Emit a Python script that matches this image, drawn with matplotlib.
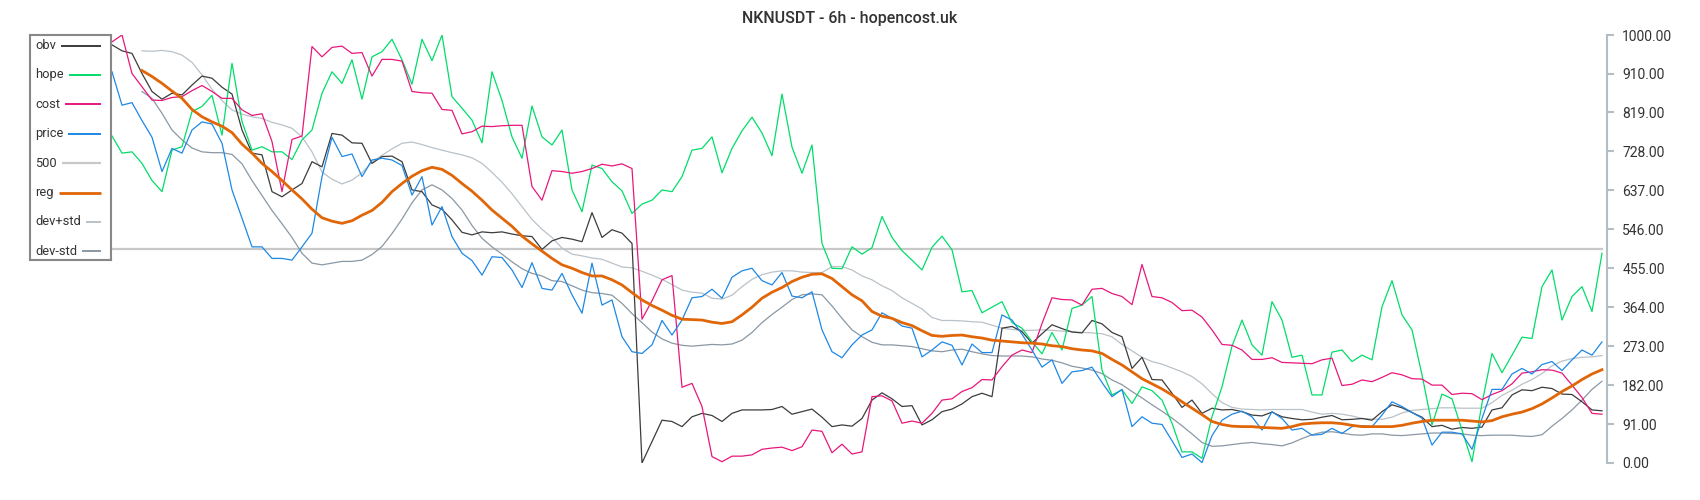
# NKNUSDT 6h chart: obv / hope / cost / price with regression and std bands
import matplotlib
matplotlib.use('Agg')
import matplotlib.pyplot as plt
import numpy as np

title = 'NKNUSDT - 6h - hopencost.uk'

obv = [977, 963, 957, 910, 868, 850, 864, 860, 883, 904, 899, 878, 862, 778, 724, 720, 634, 622, 638, 653, 704, 692, 770, 766, 748, 747,
       700, 716, 717, 704, 638, 634, 603, 593, 568, 539, 533, 540, 538, 540, 535, 531, 529, 499, 519, 527, 523, 517, 585, 527, 545,
       537, 513, 0, 50, 100, 97, 85, 108, 116, 111, 97, 116, 124, 124, 124, 125, 132, 114, 120, 126, 107, 85, 89, 86, 104,
       147, 164, 150, 132, 134, 89, 101, 120, 126, 138, 155, 163, 155, 315, 319, 307, 280, 302, 323, 314, 306, 304, 333, 325, 305,
       295, 221, 247, 195, 194, 163, 130, 147, 116, 128, 124, 125, 120, 112, 110, 119, 108, 104, 101, 102, 107, 111, 101, 102, 104,
       100, 120, 136, 129, 118, 107, 85, 88, 79, 83, 81, 84, 124, 129, 159, 171, 169, 177, 174, 161, 160, 143, 124, 122]

hope = [764, 724, 727, 700, 660, 634, 731, 739, 821, 833, 859, 766, 934, 798, 731, 739, 727, 727, 709, 755, 778, 864, 914, 887, 942, 850,
        949, 961, 990, 942, 885, 990, 940, 1000, 856, 829, 801, 748, 914, 847, 762, 712, 834, 762, 743, 778, 638, 587, 696, 688, 657,
        636, 583, 605, 614, 638, 634, 669, 731, 735, 762, 678, 735, 776, 808, 771, 718, 862, 738, 677, 743, 513, 455, 454, 505, 488,
        503, 576, 527, 496, 474, 451, 504, 530, 498, 400, 403, 351, 364, 377, 328, 315, 283, 255, 305, 264, 361, 369, 389, 217, 159,
        171, 139, 178, 169, 147, 93, 26, 26, 11, 108, 178, 273, 334, 276, 252, 377, 334, 247, 252, 159, 159, 259, 264, 237, 252,
        241, 365, 426, 346, 311, 206, 89, 161, 150, 77, 3, 139, 256, 211, 252, 294, 291, 412, 451, 334, 389, 412, 354, 490]

cost = [984, 1000, 910, 879, 848, 847, 854, 856, 870, 882, 868, 852, 852, 825, 812, 816, 751, 634, 756, 764, 973, 949, 971, 974, 957, 959,
        904, 943, 943, 939, 868, 865, 864, 826, 824, 769, 774, 787, 786, 788, 789, 789, 646, 614, 683, 681, 677, 681, 688, 698, 694,
        699, 688, 336, 379, 428, 438, 177, 186, 132, 15, 3, 16, 16, 19, 32, 35, 37, 29, 38, 77, 74, 24, 44, 21, 26,
        155, 157, 145, 93, 98, 93, 116, 147, 150, 167, 176, 195, 194, 225, 252, 264, 258, 326, 386, 382, 381, 369, 406, 408, 396,
        389, 370, 464, 389, 386, 375, 356, 357, 341, 311, 277, 275, 264, 242, 242, 246, 235, 234, 233, 232, 241, 245, 181, 184, 194,
        190, 200, 211, 206, 197, 196, 182, 182, 160, 163, 162, 148, 160, 169, 185, 210, 213, 218, 217, 210, 182, 153, 116, 114]

price = [914, 836, 842, 800, 761, 681, 735, 724, 778, 797, 792, 747, 638, 572, 505, 505, 478, 478, 474, 505, 537, 669, 761, 716, 722, 669,
         708, 712, 708, 695, 626, 669, 556, 599, 529, 490, 473, 439, 482, 480, 451, 410, 468, 408, 404, 443, 393, 350, 467, 369, 381,
         295, 260, 256, 276, 333, 299, 334, 386, 389, 406, 385, 434, 449, 455, 426, 416, 445, 390, 386, 400, 311, 260, 246, 276, 299,
         311, 351, 338, 320, 315, 248, 264, 283, 275, 229, 278, 258, 258, 346, 334, 301, 264, 224, 241, 186, 213, 216, 224, 188, 155,
         172, 85, 108, 93, 90, 52, 13, 21, 1, 64, 100, 114, 121, 108, 77, 120, 104, 77, 81, 65, 67, 81, 69, 85, 87,
         85, 112, 143, 132, 118, 105, 42, 72, 72, 68, 32, 104, 172, 172, 208, 221, 208, 230, 237, 216, 241, 264, 252, 283]

reg = [None, None, None,
       917, 903, 887, 869, 852, 826, 809, 797, 787, 772, 745, 724, 700, 681, 660, 638, 617, 593, 573, 565, 560, 566, 579,
       590, 609, 634, 653, 670, 683, 691, 686, 672, 653, 635, 614, 591, 572, 553, 530, 512, 495, 478, 463, 455, 445, 437, 437, 428,
       416, 398, 381, 368, 357, 345, 336, 335, 334, 329, 326, 330, 346, 364, 385, 399, 410, 424, 434, 441, 442, 431, 412, 393, 379,
       354, 343, 338, 328, 321, 309, 298, 296, 298, 299, 295, 292, 287, 285, 283, 281, 280, 278, 274, 272, 267, 264, 262, 256, 242,
       229, 213, 197, 185, 173, 159, 143, 128, 113, 97, 90, 86, 85, 85, 83, 82, 81, 85, 91, 93, 94, 94, 92, 88, 85,
       85, 85, 85, 88, 93, 97, 100, 100, 100, 100, 98, 96, 99, 108, 114, 119, 127, 138, 152, 167, 180, 195, 208, 218]

dev_plus = [None, None, None,
            963, 962, 964, 961, 953, 936, 907, 873, 847, 825, 815, 809, 805, 796, 790, 782, 762, 727, 680, 663, 652, 661, 678,
            703, 719, 734, 747, 750, 744, 737, 731, 725, 720, 713, 700, 679, 656, 629, 599, 569, 546, 527, 502, 488, 484, 479, 476, 467,
            458, 456, 448, 439, 429, 417, 404, 399, 397, 385, 383, 392, 412, 429, 440, 446, 449, 449, 446, 445, 445, 459, 459, 451, 437,
            428, 414, 403, 386, 373, 360, 340, 333, 333, 332, 330, 329, 322, 315, 312, 310, 310, 311, 310, 308, 307, 305, 304, 302, 295,
            277, 262, 247, 237, 231, 222, 213, 202, 185, 162, 141, 130, 126, 125, 124, 125, 125, 125, 125, 119, 114, 116, 114, 110, 104,
            103, 102, 107, 117, 123, 125, 127, 129, 129, 128, 128, 128, 141, 158, 170, 184, 195, 209, 227, 238, 244, 247, 248, 251]

dev_minus = [None, None, None,
             868, 852, 817, 778, 755, 736, 727, 725, 725, 721, 699, 660, 625, 590, 559, 527, 490, 467, 463, 467, 471, 471, 474,
             487, 506, 536, 570, 608, 638, 650, 638, 618, 591, 555, 525, 505, 488, 470, 454, 443, 437, 426, 424, 414, 404, 398, 396, 392,
             373, 349, 328, 306, 290, 280, 275, 273, 275, 277, 276, 278, 287, 305, 328, 347, 364, 382, 393, 395, 393, 367, 338, 311, 295,
             282, 276, 276, 274, 272, 267, 262, 260, 264, 266, 260, 255, 251, 250, 250, 250, 248, 243, 240, 234, 226, 222, 217, 209, 194,
             183, 167, 152, 136, 121, 105, 87, 68, 48, 39, 40, 43, 46, 48, 45, 43, 40, 47, 57, 66, 72, 73, 70, 66, 65,
             68, 68, 65, 64, 66, 68, 70, 70, 69, 68, 65, 64, 65, 65, 65, 63, 62, 66, 86, 104, 124, 147, 172, 191]

level = 500
yticks = [0, 91, 182, 273, 364, 455, 546, 637, 728, 819, 910, 1000]

plt.rcParams['font.family'] = ['Roboto', 'DejaVu Sans']

x = np.arange(len(obv))
reg = np.array(reg, dtype=float)
dev_plus = np.array(dev_plus, dtype=float)
dev_minus = np.array(dev_minus, dtype=float)

fig = plt.figure(figsize=(17, 5), dpi=100)
ax = fig.add_axes([112 / 1700, 37 / 500, 1495 / 1700, 428 / 500])

l500, = ax.plot(x, [level] * len(x), color='#c8c8c8', lw=1.6, label='500')
lplus, = ax.plot(x, dev_plus, color='#b9c2c9', lw=0.9, label='dev+std')
lminus, = ax.plot(x, dev_minus, color='#8a98a4', lw=0.9, label='dev-std')
lobv, = ax.plot(x, obv, color='#3c3c3c', lw=0.9, label='obv')
lhope, = ax.plot(x, hope, color='#00dd6a', lw=0.9, label='hope')
lcost, = ax.plot(x, cost, color='#e8177c', lw=0.9, label='cost')
lprice, = ax.plot(x, price, color='#1e88e5', lw=0.9, label='price')
lreg, = ax.plot(x, reg, color='#e06608', lw=2.0, label='reg')

ax.set_xlim(0, len(x) - 0.5)
ax.set_ylim(0, 1000)
ax.set_xticks([])
ax.yaxis.tick_right()
ax.set_yticks(yticks)
ax.set_yticklabels(['{:.2f}'.format(v) for v in yticks])
ax.tick_params(axis='y', length=5, width=1.5, color='#b4bcc4', pad=6,
               labelsize=10, labelcolor='#333333')
for side in ['top', 'left', 'bottom']:
    ax.spines[side].set_visible(False)
ax.spines['right'].set_color('#b4bcc4')
ax.spines['right'].set_linewidth(1.5)

fig.text(0.5, 1 - 19 / 500, title, ha='center', va='center', fontsize=11.5,
         fontweight='medium', color='#333333')

# legend box: label on the left, line filling the rest of the row
handles = [lobv, lhope, lcost, lprice, l500, lreg, lplus, lminus]
lax = fig.add_axes([30 / 1700, 1 - 260 / 500, 81 / 1700, 225 / 500])
lax.set_xlim(0, 81)
lax.set_ylim(225, 0)
lax.set_xticks([])
lax.set_yticks([])
lax.set_zorder(3)
for sp in lax.spines.values():
    sp.set_color('#888888')
    sp.set_linewidth(1.5)

fig.canvas.draw()
renderer = fig.canvas.get_renderer()
inv = lax.transData.inverted()
for k, h in enumerate(handles):
    yy = 10.5 + k * 29.4
    t = lax.text(5, yy, h.get_label(), ha='left', va='center', fontsize=9.3, color='#333333')
    bb = t.get_window_extent(renderer)
    x_end = inv.transform((bb.x1, bb.y0))[0]
    lax.plot([x_end + 5, 70.5], [yy, yy], color=h.get_color(), lw=max(h.get_linewidth(), 1.4),
             solid_capstyle='butt')

fig.savefig('out.png', dpi=100)
